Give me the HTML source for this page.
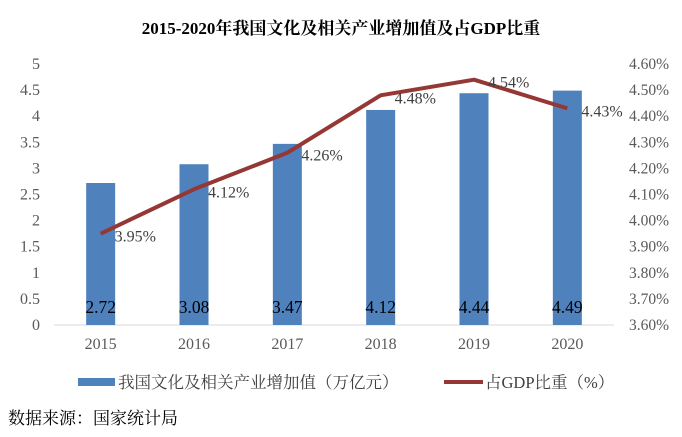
<!DOCTYPE html>
<html><head><meta charset="utf-8"><style>
body{margin:0;background:#fff;width:682px;height:432px;overflow:hidden}
svg text{font-family:"Liberation Serif","Noto Serif CJK SC","Noto Sans CJK SC",serif}
</style></head><body>
<svg id="chart" width="682" height="432" xmlns="http://www.w3.org/2000/svg">
<text x="341" y="34" text-anchor="middle" font-size="17" font-weight="bold" fill="#000">2015-2020年我国文化及相关产业增加值及占GDP比重</text>
<g id="grid"></g><g id="bars"></g><g id="line"></g><g id="labels"></g>
<g>
<rect x="78" y="378" width="37" height="8" fill="#4f81bd"/>
<text x="118" y="388" font-size="16.5" fill="#404040">我国文化及相关产业增加值（万亿元）</text>
<line x1="444" y1="382" x2="483" y2="382" stroke="#953735" stroke-width="4"/>
<text x="485" y="388" font-size="16.5" fill="#404040">占GDP比重（%）</text>
</g>
<text x="8" y="424" font-size="17" fill="#000">数据来源：国家统计局</text>
</svg>
<script>
const categories=["2015","2016","2017","2018","2019","2020"];
const barValues=[2.72,3.08,3.47,4.12,4.44,4.49];
const lineValues=[3.95,4.12,4.26,4.48,4.54,4.43];
const leftTicks=[0,0.5,1,1.5,2,2.5,3,3.5,4,4.5,5];
const rightTicks=[3.6,3.7,3.8,3.9,4.0,4.1,4.2,4.3,4.4,4.5,4.6];
const NS="http://www.w3.org/2000/svg";
const X0=54,X1=614,Y0=325,Y1=64;
const bw=(X1-X0)/categories.length;
const xc=i=>X0+bw*(i+0.5);
const yL=v=>Y0-(v-0)/(5-0)*(Y0-Y1);
const yR=v=>Y0-(v-3.6)/(4.6-3.6)*(Y0-Y1);
function mk(tag,attrs,parent,txt){const e=document.createElementNS(NS,tag);for(const k in attrs)e.setAttribute(k,attrs[k]);if(txt!=null)e.textContent=txt;document.getElementById(parent).appendChild(e);return e;}
const grid="grid";
leftTicks.forEach(v=>{const t=mk("text",{x:40,y:yL(v)+5,"text-anchor":"end","font-size":16,fill:"#595959"},grid,String(v));

});
rightTicks.forEach(v=>{const t=mk("text",{x:629,y:yR(v)+5,"font-size":15.5,fill:"#595959"},grid,v.toFixed(2)+"%");

});
categories.forEach((c,i)=>{const t=mk("text",{x:xc(i),y:349,"text-anchor":"middle","font-size":16,fill:"#595959"},grid,c);

});
barValues.forEach((v,i)=>{const r=mk("rect",{x:xc(i)-14.5,y:yL(v),width:29,height:Y0-yL(v),fill:"#4f81bd"},"bars");


const t=mk("text",{x:xc(i),y:313,"text-anchor":"middle","font-size":17.5,fill:"#000"},"labels",v.toFixed(2));

});
const ax=mk("line",{x1:X0,y1:Y0,x2:X1,y2:Y0,stroke:"#d9d9d9","stroke-width":1},grid);


const pts=lineValues.map((v,i)=>xc(i)+","+yR(v)).join(" ");
const pl=mk("polyline",{points:pts,fill:"none",stroke:"#953735","stroke-width":4,"stroke-linejoin":"round"},"line");


lineValues.forEach((v,i)=>{const t=mk("text",{x:xc(i)+14,y:yR(v)+8,"font-size":16,fill:"#404040"},"labels",v.toFixed(2)+"%");

});
</script>
</body></html>
